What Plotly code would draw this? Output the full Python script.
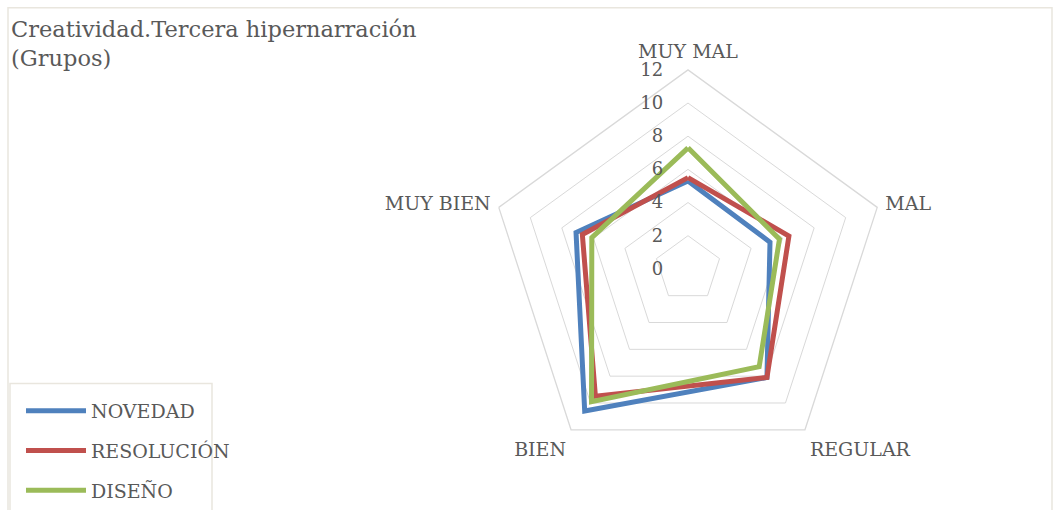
import plotly.graph_objects as go

categories = ["MUY MAL", "MAL", "REGULAR", "BIEN", "MUY BIEN"]
novedad = [5.3, 5.2, 8.1, 10.6, 7.1]
resolucion = [5.5, 6.4, 8.1, 9.5, 6.7]
diseno = [7.3, 5.8, 7.3, 9.9, 6.1]
series_names = ["NOVEDAD", "RESOLUCIÓN", "DISEÑO"]
radial_ticks = [0, 2, 4, 6, 8, 10, 12]

colors = ["#4F81BD", "#C0504D", "#9BBB59"]
W, H = 1060, 510
FONT = "DejaVu Serif"
TXT = "#595959"

fig = go.Figure()
for name, vals, col in zip(series_names, [novedad, resolucion, diseno], colors):
    fig.add_trace(go.Scatterpolar(
        r=vals + vals[:1], theta=categories + categories[:1],
        mode="lines", name=name, legendgroup=name,
        line=dict(color=col, width=5, shape="linear"),
    ))

cx, cy, R = 688, 277, 205
fig.update_layout(
    width=W, height=H,
    margin=dict(l=0, r=0, t=0, b=0),
    paper_bgcolor="white", plot_bgcolor="white",
    font=dict(family=FONT, color=TXT, size=18),
    title=dict(text="Creatividad.Tercera hipernarración<br>(Grupos)",
               x=11 / W, xanchor="left", xref="paper",
               y=(H - 38) / H, yanchor="top", yref="paper",
               font=dict(family=FONT, size=22.5, color=TXT)),
    polar=dict(
        domain=dict(x=[(cx - R) / W, (cx + R) / W], y=[(H - cy - R) / H, (H - cy + R) / H]),
        gridshape="linear",
        bgcolor="white",
        radialaxis=dict(range=[0, 12], tickvals=radial_ticks, angle=90, tickangle=90,
                        showline=False, ticks="outside", ticklen=18, tickcolor="rgba(0,0,0,0)",
                        gridcolor="#D9D9D9", gridwidth=1.3,
                        tickfont=dict(size=18, color=TXT, family=FONT), side="counterclockwise"),
        angularaxis=dict(rotation=90, direction="clockwise", showgrid=False,
                         showline=True, linecolor="#D9D9D9", linewidth=1.3,
                         ticks="outside", ticklen=4, tickcolor="rgba(0,0,0,0)",
                         tickfont=dict(size=19, color=TXT, family=FONT)),
    ),
    showlegend=True,
    legend=dict(x=21 / W, xanchor="left", y=(H - 404) / H, yanchor="top",
                font=dict(size=19, color=TXT, family=FONT),
                tracegroupgap=12, bgcolor="rgba(0,0,0,0)", itemwidth=60),
    shapes=[
        dict(type="rect", xref="paper", yref="paper", x0=8 / W, x1=1052 / W,
             y0=-0.2, y1=(H - 8) / H, line=dict(color="#E9E6DE", width=1.5)),
        dict(type="rect", xref="paper", yref="paper", x0=10 / W, x1=212 / W,
             y0=-0.2, y1=(H - 395) / H, line=dict(color="#E9E6DE", width=1.5)),
    ],
)

fig.write_html("out.html", config={"displayModeBar": False},
               post_script="document.body.style.margin='0';")
